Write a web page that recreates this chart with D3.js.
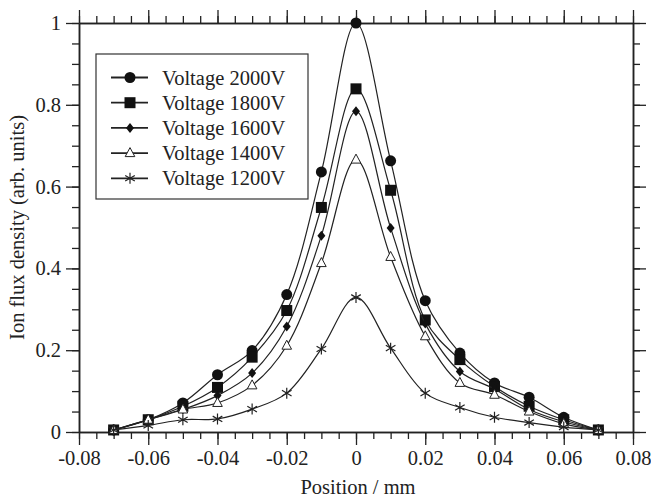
<!DOCTYPE html>
<html>
<head>
<meta charset="utf-8">
<script src="https://cdn.jsdelivr.net/npm/d3@7"></script>
<style>
body { margin: 0; background: #fff; }
text, .serif { font-family: "Liberation Serif", "Nimbus Roman", FreeSerif, Tinos !important; }
</style>
</head>
<body>
<svg width="651" height="498"></svg>
<script>
// positions in mm
var positions = [-0.07, -0.06, -0.05, -0.04, -0.03, -0.02, -0.01, 0, 0.01, 0.02, 0.03, 0.04, 0.05, 0.06, 0.07];
// ion flux density for each voltage
var v2000 = [0.005, 0.03, 0.071, 0.14, 0.199, 0.336, 0.636, 1.0, 0.663, 0.321, 0.193, 0.12, 0.085, 0.036, 0.005];
var v1800 = [0.005, 0.03, 0.063, 0.109, 0.183, 0.297, 0.549, 0.839, 0.591, 0.274, 0.177, 0.111, 0.063, 0.03, 0.005];
var v1600 = [0.005, 0.03, 0.055, 0.089, 0.144, 0.258, 0.48, 0.784, 0.499, 0.265, 0.148, 0.105, 0.055, 0.025, 0.005];
var v1400 = [0.005, 0.03, 0.055, 0.071, 0.114, 0.211, 0.413, 0.666, 0.428, 0.234, 0.12, 0.091, 0.05, 0.02, 0.005];
var v1200 = [0.005, 0.016, 0.03, 0.032, 0.056, 0.095, 0.203, 0.329, 0.205, 0.095, 0.06, 0.036, 0.023, 0.012, 0.005];
var seriesNames = ["Voltage 2000V", "Voltage 1800V", "Voltage 1600V", "Voltage 1400V", "Voltage 1200V"];
var seriesValues = [v2000, v1800, v1600, v1400, v1200];
var markerTypes = ["circle", "square", "diamond", "triangle", "star"];

var xTicks = [-0.08, -0.06, -0.04, -0.02, 0, 0.02, 0.04, 0.06, 0.08];
var yTicks = [0, 0.2, 0.4, 0.6, 0.8, 1];

var svg = d3.select("svg");
var plotL = 79, plotR = 633, plotT = 23, plotB = 432;

// serif text helper
function serifText(sel) {
    return sel.attr("class", "serif").style("font-size", "20.5px").attr("fill", "#222");
}

var x = d3.scaleLinear().domain([-0.08, 0.08]).range([plotL, plotR]);
var y = d3.scaleLinear().domain([0, 1]).range([plotB, plotT]);

// plain hyphen minus like the original
var fmt = function(d) { return d == 0 ? "0" : String(+d.toFixed(2)); };
var minorX = d3.range(-0.08, 0.0801, 0.005);
var minorY = d3.range(0, 1.001, 0.05);

// axes: major and minor ticks, outward on all four sides
function drawAxis(axisGen, tr) {
    var g = svg.append("g").attr("transform", tr).call(axisGen).attr("font-family", null).attr("font-size", null);
    g.select(".domain").attr("stroke", "#222").attr("stroke-width", 1.5);
    g.selectAll(".tick line").attr("stroke", "#222").attr("stroke-width", 1.3);
    serifText(g.selectAll("text"));
    return g;
}
drawAxis(d3.axisBottom(x).tickValues(minorX).tickSize(7).tickSizeOuter(0).tickFormat(""), "translate(0," + plotB + ")");
drawAxis(d3.axisBottom(x).tickValues(xTicks).tickSize(13).tickSizeOuter(0).tickFormat(fmt), "translate(0," + plotB + ")")
    .selectAll("text").attr("y", 18);
drawAxis(d3.axisTop(x).tickValues(minorX).tickSize(7).tickSizeOuter(0).tickFormat(""), "translate(0," + plotT + ")");
drawAxis(d3.axisTop(x).tickValues(xTicks).tickSize(13).tickSizeOuter(0).tickFormat(""), "translate(0," + plotT + ")");
drawAxis(d3.axisLeft(y).tickValues(minorY).tickSize(7).tickSizeOuter(0).tickFormat(""), "translate(" + plotL + ",0)");
drawAxis(d3.axisLeft(y).tickValues(yTicks).tickSize(13).tickSizeOuter(0).tickFormat(fmt), "translate(" + plotL + ",0)")
    .selectAll("text").attr("x", -18);
drawAxis(d3.axisRight(y).tickValues(minorY).tickSize(7).tickSizeOuter(0).tickFormat(""), "translate(" + plotR + ",0)");
drawAxis(d3.axisRight(y).tickValues(yTicks).tickSize(13).tickSizeOuter(0).tickFormat(""), "translate(" + plotR + ",0)");

// axis titles
serifText(svg.append("text").attr("x", (plotL + plotR) / 2 + 2).attr("y", 494)
    .attr("text-anchor", "middle")).text("Position / mm");
serifText(svg.append("text").attr("transform", "translate(24," + ((plotT + plotB) / 2) + ") rotate(-90)")
    .attr("text-anchor", "middle")).text("Ion flux density (arb. units)");

// marker drawing
function marker(g, type) {
    if (type == "circle") g.append("circle").attr("r", 5.5).attr("fill", "#111");
    else if (type == "square") g.append("rect").attr("x", -5.5).attr("y", -5.5).attr("width", 11).attr("height", 11).attr("fill", "#111");
    else if (type == "diamond") g.append("path").attr("d", "M0,-5L4,0L0,5L-4,0Z").attr("fill", "#111");
    else if (type == "triangle") g.append("path").attr("d", "M0,-5.5L4.8,3.5L-4.8,3.5Z").attr("fill", "#fff").attr("stroke", "#222").attr("stroke-width", 1);
    else if (type == "star") g.append("path").attr("d", "M0,-5.5V5.5M-4.8,-2.8L4.8,2.8M-4.8,2.8L4.8,-2.8").attr("stroke", "#222").attr("stroke-width", 1.2).attr("fill", "none");
}

var line = d3.line().x(function(d) { return x(d[0]); }).y(function(d) { return y(d[1]); })
    .curve(d3.curveCatmullRom.alpha(0.5));

seriesValues.forEach(function(vals, i) {
    var pts = positions.map(function(p, j) { return [p, vals[j]]; });
    svg.append("path").datum(pts).attr("d", line)
        .attr("fill", "none").attr("stroke", "#222").attr("stroke-width", 1.2);
    svg.selectAll(".m" + i).data(pts).enter().append("g")
        .attr("class", "m" + i)
        .attr("transform", function(d) { return "translate(" + x(d[0]) + "," + y(d[1]) + ")"; })
        .each(function() { marker(d3.select(this), markerTypes[i]); });
});

// legend
var lg = svg.append("g");
lg.append("rect").attr("x", 96).attr("y", 54).attr("width", 212).attr("height", 145)
    .attr("fill", "#fff").attr("stroke", "#333").attr("stroke-width", 1.2);
seriesNames.forEach(function(name, i) {
    var ly = 77.5 + i * 25.2;
    lg.append("line").attr("x1", 111).attr("x2", 148).attr("y1", ly).attr("y2", ly)
        .attr("stroke", "#222").attr("stroke-width", 1.8);
    var m = lg.append("g").attr("transform", "translate(130," + ly + ")");
    marker(m, markerTypes[i]);
    serifText(lg.append("text").attr("x", 162).attr("y", ly + 7)).text(name);
});
</script>
</body>
</html>
